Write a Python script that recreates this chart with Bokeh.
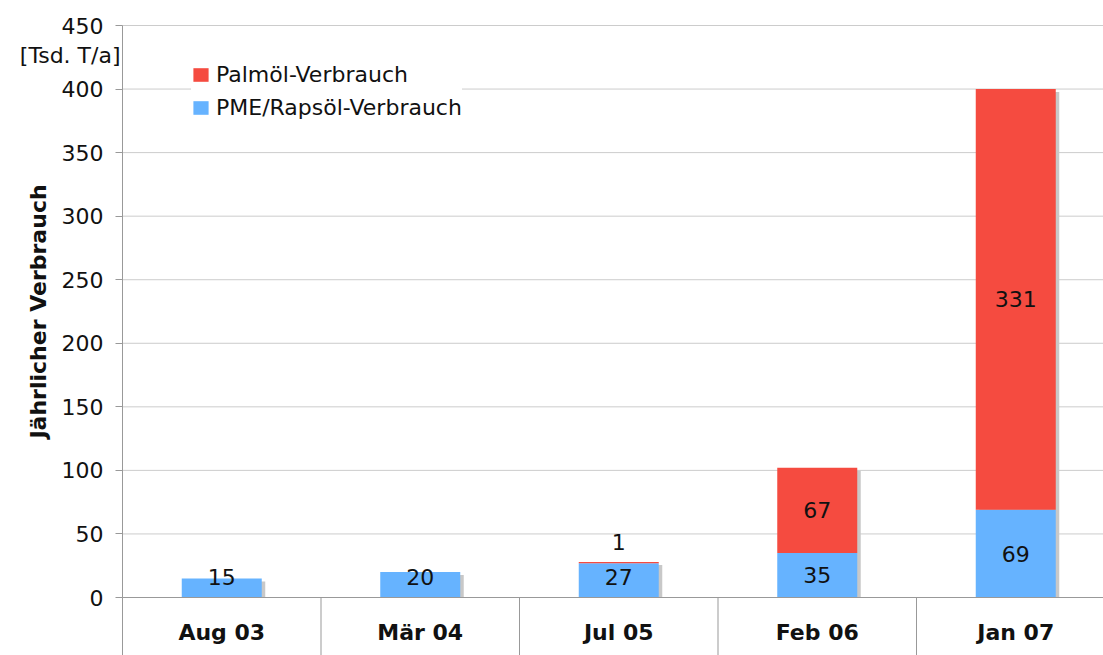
import numpy as np
from bokeh.plotting import figure
from bokeh.models import Range1d, FixedTicker, Span, Label, Legend, LegendItem, LinearAxis
from bokeh.core.properties import value
from bokeh.embed import file_html
from bokeh.resources import INLINE

categories = ["Aug 03", "Mär 04", "Jul 05", "Feb 06", "Jan 07"]
pme_rapsoel = [15, 20, 27, 35, 69]
palmoel = [0, 0, 1, 67, 331]
y_ticks = [0, 50, 100, 150, 200, 250, 300, 350, 400, 450]

RED = "#F54B40"
BLUE = "#66B3FF"
FONT = "DejaVu Sans"
INK = "#111111"

x = np.arange(len(categories))
pme = np.array(pme_rapsoel, dtype=float)
palm = np.array(palmoel, dtype=float)
total = pme + palm

# pixel geometry of the plot area
W, H = 1103, 655
AXIS_PX = 122          # left edge of plotting area (px)
ZERO_PX = 597          # y pixel of value 0
px_per_unit = 572 / 450.0
px_per_cat = 198.5

x_axis_pos = -0.5
x_lo = x_axis_pos - AXIS_PX / px_per_cat
x_hi = x_axis_pos + (W - AXIS_PX) / px_per_cat
y_lo = -(H - ZERO_PX) / px_per_unit
y_hi = ZERO_PX / px_per_unit


def px_to_x(px):
    return x_axis_pos + (px - AXIS_PX) / px_per_cat


def py_to_y(py):
    return (ZERO_PX - py) / px_per_unit


p = figure(width=W, height=H, x_range=Range1d(x_lo, x_hi), y_range=Range1d(y_lo, y_hi),
           output_backend="svg", toolbar_location=None, x_axis_location=None,
           y_axis_location=None, min_border_left=0, min_border_right=0,
           min_border_top=0, min_border_bottom=0)
p.outline_line_color = None
p.grid.visible = False

# horizontal grid lines (right of the axis only)
grid_vals = np.array(y_ticks[1:], dtype=float)
p.segment(x0=[x_axis_pos] * len(grid_vals), y0=grid_vals, x1=[x_hi] * len(grid_vals),
          y1=grid_vals, line_color="#cccccc", line_width=1)

yax = LinearAxis(fixed_location=x_axis_pos)
yax.ticker = FixedTicker(ticks=y_ticks)
yax.bounds = (0, 450)
yax.axis_line_color = "#999999"
yax.major_tick_line_color = "#999999"
yax.major_tick_out = 7
yax.major_tick_in = 0
yax.minor_tick_line_color = None
yax.major_label_text_font = FONT
yax.major_label_text_font_size = "22px"
yax.major_label_text_color = INK
yax.major_label_standoff = 12
p.add_layout(yax, "left")

bw = 80 / px_per_cat
# shadows
p.vbar(x=x + 3.5 / px_per_cat, width=bw, bottom=0, top=total - 3 / px_per_unit,
       fill_color="#c8c8c8", line_color=None)
r_blue = p.vbar(x=x, width=bw, bottom=0, top=pme, fill_color=BLUE, line_color=None)
r_red = p.vbar(x=x, width=bw, bottom=pme, top=total, fill_color=RED, line_color=None)

# baseline and category separators
p.segment(x0=[x_axis_pos], y0=[0], x1=[x_hi], y1=[0], line_color="#999999", line_width=1)
p.segment(x0=x - 0.5, y0=y_lo, x1=x - 0.5, y1=0, line_color="#999999", line_width=1)

# value labels
blue_y = np.maximum(pme / 2, 16)
p.text(x=x, y=blue_y, text=[str(int(v)) for v in pme], text_align="center",
       text_baseline="middle", text_font=value(FONT), text_font_size="22px", text_color=INK)
mask = palm > 0
red_y = np.where(palm < 10, total + 16, pme + palm / 2)
p.text(x=x[mask], y=red_y[mask], text=[str(int(v)) for v in palm[mask]], text_align="center",
       text_baseline="middle", text_font=value(FONT), text_font_size="22px", text_color=INK)

# category labels
p.text(x=x, y=[py_to_y(632)] * len(x), text=categories, text_align="center",
       text_baseline="middle", text_font=value(FONT), text_font_size="22px",
       text_font_style="bold", text_color=INK)

# axis title and unit
p.text(x=[px_to_x(38)], y=[225], text=["Jährlicher Verbrauch"], angle=np.pi / 2,
       text_align="center", text_baseline="middle", text_font=value(FONT),
       text_font_size="22px", text_font_style="bold", text_color=INK)
p.add_layout(Label(x=x_axis_pos, y=py_to_y(55), x_offset=-2, text="[Tsd. T/a]",
                   text_align="right", text_baseline="middle", text_font=FONT,
                   text_font_size="22px", text_color=INK))

legend = Legend(items=[LegendItem(label="Palmöl-Verbrauch", renderers=[r_red]),
                       LegendItem(label="PME/Rapsöl-Verbrauch", renderers=[r_blue])],
                location=(191, 535), border_line_color=None, background_fill_color="white",
                background_fill_alpha=1.0, glyph_width=19, glyph_height=17,
                label_text_font=FONT, label_text_font_size="22px", label_text_color=INK,
                padding=6, spacing=8, label_standoff=6, margin=0)
p.add_layout(legend)

open("out.html", "w").write(file_html(p, INLINE))
